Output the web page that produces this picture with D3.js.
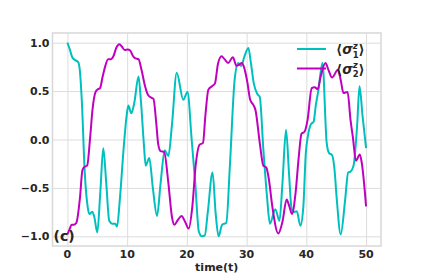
<!DOCTYPE html>
<html>
<head>
<meta charset="utf-8">
<script src="https://cdn.jsdelivr.net/npm/d3@7"></script>
<style>
  body { margin:0; background:#fff; }
  text { font-family:"DejaVu Sans", sans-serif; font-weight:bold; fill:#262626; }
  .grid line { stroke:#dcdcdc; stroke-width:1; }
  .grid path { stroke:none; }
</style>
</head>
<body>
<svg width="423" height="277"></svg>
<script>
// <sigma_1^z>(t) as [t, value]
var sigma1 = [
  [0,1.0],[0.4,0.93],[0.8,0.85],[1.3,0.82],[1.8,0.8],[2.1,0.7],[2.4,0.41],[2.9,-0.34],
  [3.4,-0.7],[3.7,-0.77],[4.15,-0.745],[4.5,-0.8],[5.0,-0.96],[5.5,-0.55],[6.0,-0.09],
  [6.5,-0.45],[7.0,-0.84],[7.5,-0.87],[8.0,-0.87],[8.3,-0.9],[8.8,-0.6],[9.4,-0.1],
  [9.9,0.24],[10.2,0.35],[10.7,0.27],[11.2,0.38],[11.9,0.65],[12.3,0.4],[12.8,-0.05],
  [13.1,-0.27],[13.7,-0.19],[14.3,-0.5],[15.0,-0.79],[15.6,-0.45],[16.3,-0.11],
  [16.9,-0.17],[17.5,0.15],[18.3,0.69],[19.4,0.41],[20.1,0.49],[20.8,0.0],[21.4,-0.45],
  [22.0,-0.95],[22.5,-1.0],[23.0,-0.99],[23.5,-0.75],[24.3,-0.34],[24.8,-0.75],
  [25.3,-1.0],[25.9,-0.88],[26.6,-0.86],[27.2,-0.27],[28.0,0.62],[28.6,0.79],[29.1,0.76],
  [29.6,0.85],[30.3,0.945],[30.7,0.8],[31.2,0.58],[31.8,0.47],[32.2,0.44],[32.8,-0.1],
  [33.4,-0.58],[33.9,-0.87],[34.8,-0.72],[35.5,-0.84],[36.0,-0.45],[36.6,0.1],
  [37.1,-0.35],[37.5,-0.7],[37.9,-0.75],[38.4,-0.74],[39.0,-0.89],[39.5,-0.69],
  [39.9,-0.15],[40.3,0.05],[40.8,0.16],[41.2,0.18],[41.6,0.36],[42.0,0.5],[42.7,0.79],
  [43.4,-0.03],[43.8,-0.14],[44.3,-0.16],[44.7,-0.3],[45.1,-0.62],[45.75,-0.98],
  [46.5,-0.62],[47.0,-0.34],[47.4,-0.33],[47.9,-0.27],[48.5,0.14],[48.9,0.55],
  [49.4,0.25],[50.0,-0.09]
];

// <sigma_2^z>(t)
var sigma2 = [
  [0,-0.98],[0.4,-0.92],[0.7,-0.88],[1.1,-0.88],[1.5,-0.86],[2.1,-0.6],[2.5,-0.32],
  [2.8,-0.285],[3.3,-0.27],[3.8,0.02],[4.2,0.31],[4.7,0.49],[5.1,0.52],[5.45,0.53],
  [5.9,0.65],[6.3,0.75],[6.8,0.83],[7.3,0.83],[7.7,0.86],[8.2,0.95],[8.7,0.985],
  [9.1,0.96],[9.6,0.925],[10.1,0.93],[10.5,0.92],[11.0,0.86],[11.3,0.84],[11.9,0.83],
  [12.4,0.72],[13.0,0.55],[13.5,0.46],[14.1,0.43],[14.4,0.42],[14.9,0.15],[15.2,-0.05],
  [15.6,-0.12],[16.2,-0.13],[16.9,-0.45],[17.5,-0.8],[17.9,-0.88],[18.5,-0.83],
  [19.1,-0.79],[19.7,-0.85],[20.3,-0.92],[20.9,-0.7],[21.5,-0.25],[22.1,-0.055],
  [22.7,-0.035],[23.1,0.25],[23.6,0.515],[24.2,0.55],[24.7,0.58],[25.2,0.78],[25.8,0.86],
  [26.3,0.83],[26.9,0.79],[27.7,0.85],[28.3,0.76],[28.7,0.77],[29.2,0.79],[29.6,0.74],
  [30.1,0.6],[30.6,0.41],[31.1,0.36],[31.5,0.3],[32.2,-0.035],[32.8,-0.27],[33.3,-0.29],
  [33.7,-0.4],[34.3,-0.69],[35.3,-0.97],[36.0,-0.85],[36.7,-0.62],[37.1,-0.68],
  [37.6,-0.77],[38.2,-0.55],[38.7,-0.2],[39.2,0.06],[39.7,0.08],[40.2,0.2],[40.9,0.53],
  [41.4,0.54],[41.9,0.52],[42.4,0.65],[43.2,0.79],[43.7,0.72],[44.3,0.64],[45.3,0.72],
  [45.8,0.6],[46.2,0.48],[46.9,0.49],[47.4,0.2],[47.8,0.02],[48.3,-0.22],[48.95,-0.155],
  [49.3,-0.25],[50.0,-0.69]
];

var xTicks   = [0,10,20,30,40,50],
    yTicks   = [-1.0,-0.5,0.0,0.5,1.0],
    labels   = ["1","2"],
    colors   = ["#00bfbf","#bf00bf"],
    panel    = "(c)",
    xTitle   = "time(t)";

var svg    = d3.select("svg"),
    plotL  = 52.5, plotR = 381, plotT = 33, plotB = 246;

var x = d3.scaleLinear()
          .domain([-2.5, 52.5])
          .range([plotL, plotR]);

var y = d3.scaleLinear()
          .domain([-1.1, 1.1])
          .range([plotB, plotT]);

//Grid
svg.append("g")
   .attr("class","grid")
   .attr("transform","translate(0,"+plotB+")")
   .call(d3.axisBottom(x).tickValues(xTicks).tickSize(-(plotB-plotT)).tickFormat(""));

svg.append("g")
   .attr("class","grid")
   .attr("transform","translate("+plotL+",0)")
   .call(d3.axisLeft(y).tickValues(yTicks).tickSize(-(plotR-plotL)).tickFormat(""));

//Frame
svg.append("rect")
   .attr("x", plotL).attr("y", plotT)
   .attr("width", plotR-plotL).attr("height", plotB-plotT)
   .style("fill","none")
   .style("stroke","#d8d8d8")
   .style("stroke-width",1.5);

//Tick labels
var fmt = d3.format(".1f");
svg.selectAll(".xtick")
   .data(xTicks)
   .enter().append("text")
     .attr("x", d => x(d))
     .attr("y", 257.5)
     .attr("text-anchor","middle")
     .style("font-size","11px")
     .text(d => d);

svg.selectAll(".ytick")
   .data(yTicks)
   .enter().append("text")
     .attr("x", 49.5)
     .attr("y", d => y(d) + 4)
     .attr("text-anchor","end")
     .style("font-size","11px")
     .text(d => fmt(d).replace("-","\u2212"));

svg.append("text")
   .attr("x", (x(0)+x(50))/2)
   .attr("y", 271)
   .attr("text-anchor","middle")
   .style("font-size","11px")
   .text(xTitle);

//Curves
var line = d3.line()
             .x(d => x(d[0]))
             .y(d => y(d[1]))
             .curve(d3.curveMonotoneX);

[sigma1, sigma2].forEach(function(s,i){
  svg.append("path")
     .datum(s)
     .attr("d", line)
     .style("fill","none")
     .style("stroke", colors[i])
     .style("stroke-width", 2);
});

//Legend
var leg = svg.selectAll(".legend")
             .data(labels)
             .enter().append("g")
               .attr("transform", (d,i) => "translate(297,"+(49+i*19.5)+")");

leg.append("line")
   .attr("x1",0).attr("x2",29)
   .style("stroke", (d,i) => colors[i])
   .style("stroke-width",2);

var lt = leg.append("text")
            .attr("x", 39)
            .attr("y", 5)
            .style("font-size","13.5px");
lt.append("tspan").text("\u27e8");
lt.append("tspan").style("font-style","italic").text("\u03c3");
lt.append("tspan").style("font-size","8.5px").style("font-style","italic").attr("dy",-5.5).text("z");
lt.append("tspan").style("font-size","8.5px").attr("dx",-5).attr("dy",9).text(d => d);
lt.append("tspan").attr("dy",-3.5).text("\u27e9");

//Panel label
svg.append("text")
   .attr("x", 53.5)
   .attr("y", 241)
   .style("font-size","14px")
   .text(panel);
</script>
</body>
</html>
